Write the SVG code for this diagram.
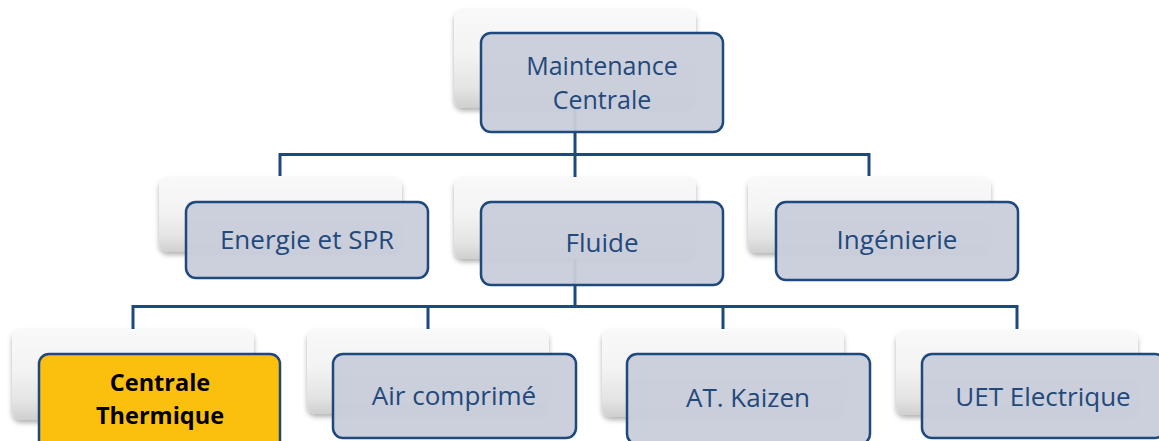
<svg xmlns="http://www.w3.org/2000/svg" width="1159" height="441" viewBox="0 0 1159 441">
  <defs>
    <linearGradient id="backFill" x1="0" y1="0" x2="0" y2="1">
      <stop offset="0" stop-color="#f9f9f9"/>
      <stop offset="0.45" stop-color="#f3f3f3"/>
      <stop offset="0.8" stop-color="#e4e4e4"/>
      <stop offset="1" stop-color="#cfcfcf"/>
    </linearGradient>
    <filter id="shadow" x="-10%" y="-10%" width="120%" height="130%">
      <feDropShadow dx="0" dy="3" stdDeviation="2.5" flood-color="#000" flood-opacity="0.3"/>
    </filter>
  </defs>
  <style>
    .back { fill: url(#backFill); filter: url(#shadow); }
    .front { fill: #c9cedb; fill-opacity: 0.95; stroke: #1f497d; stroke-width: 2.5; }
    .hi { fill: #fbbf0e; stroke: #1f497d; stroke-width: 2.5; }
    .conn { fill: none; stroke: #1f497d; stroke-width: 3; }
    .lbl { font-family: "Open Sans", "Noto Sans", sans-serif; font-size: 26px; fill: #23497b; text-anchor: middle; }
    .lbl2 { font-size: 25px; }
    .lblb { font-family: "Open Sans", "Noto Sans", sans-serif; font-size: 23.5px; font-weight: bold; fill: #000; text-anchor: middle; }
  </style>

  <rect width="1159" height="441" fill="#fff"/>

  <!-- back (shadow) plates -->
  <g id="plates">
    <rect class="back" x="454" y="9" width="242" height="99" rx="9"/>
    <rect class="back" x="159" y="177" width="243" height="75" rx="9"/>
    <rect class="back" x="454" y="177" width="242" height="82" rx="9"/>
    <rect class="back" x="748" y="177" width="243" height="76" rx="9"/>
    <rect class="back" x="12" y="329" width="242" height="91" rx="9"/>
    <rect class="back" x="307" y="329" width="242" height="85" rx="9"/>
    <rect class="back" x="602" y="329" width="242" height="88" rx="9"/>
    <rect class="back" x="896" y="331" width="242" height="84" rx="9"/>
  </g>

  <!-- connectors -->
  <g id="connectors">
    <path class="conn" d="M575 108 V154.5 M280 176 V154.5 H869 V176 M575 154.5 V177"/>
    <path class="conn" d="M575 259 V306.5 M133 329 V306.5 H1017 V329 M428 306.5 V329 M723 306.5 V329"/>
  </g>

  <g id="maintenance-centrale">
    <rect class="front" x="481" y="33" width="242" height="99" rx="10"/>
    <text class="lbl lbl2" x="602" y="75">Maintenance</text>
    <text class="lbl lbl2" x="602" y="109">Centrale</text>
  </g>

  <g id="energie-spr">
    <rect class="front" x="186" y="202" width="242" height="76" rx="10"/>
    <text class="lbl" x="307" y="249">Energie et SPR</text>
  </g>

  <g id="fluide">
    <rect class="front" x="481" y="202" width="242" height="83" rx="10"/>
    <text class="lbl" x="602" y="252">Fluide</text>
  </g>

  <g id="ingenierie">
    <rect class="front" x="776" y="202" width="242" height="78" rx="10"/>
    <text class="lbl" x="897" y="249">Ingénierie</text>
  </g>

  <g id="centrale-thermique">
    <rect class="hi" x="39" y="354" width="241" height="100" rx="10"/>
    <text class="lblb" x="160" y="391">Centrale</text>
    <text class="lblb" x="160" y="424">Thermique</text>
  </g>

  <g id="air-comprime">
    <rect class="front" x="333" y="354" width="243" height="84" rx="10"/>
    <text class="lbl" x="454" y="405">Air comprimé</text>
  </g>

  <g id="at-kaizen">
    <rect class="front" x="627" y="354" width="243" height="90" rx="10"/>
    <text class="lbl" x="748" y="407">AT. Kaizen</text>
  </g>

  <g id="uet-electrique">
    <rect class="front" x="922" y="354" width="243" height="84" rx="10"/>
    <text class="lbl" x="1043" y="406">UET Electrique</text>
  </g>
</svg>
